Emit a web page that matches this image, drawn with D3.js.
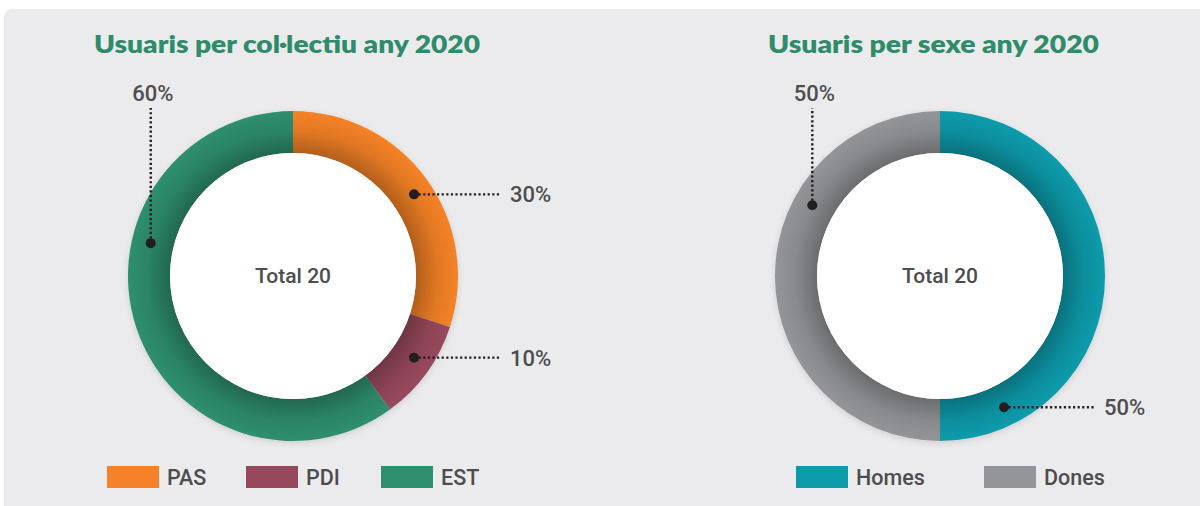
<!DOCTYPE html>
<html>
<head>
<meta charset="utf-8">
<script src="https://cdn.jsdelivr.net/npm/d3@7"></script>
<style>
  body { margin: 0; background: #ffffff; }
  svg { display: block; }
</style>
</head>
<body>
<svg id="chart" width="1200" height="506"></svg>
<script>
// data
const collectiuTitle = 'Usuaris per col·lectiu any 2020'
const collectiuNames = ['PAS', 'PDI', 'EST']
const collectiuValues = [30, 10, 60]
const collectiuColors = ['#f58228', '#98485d', '#2f8f6e']

const sexeTitle = 'Usuaris per sexe any 2020'
const sexeNames = ['Homes', 'Dones']
const sexeValues = [50, 50]
const sexeColors = ['#0b9bab', '#939598']

const totalLabel = 'Total 20'

const svg = d3.select('#chart')
const textColor = '#4d4d4f'
const titleColor = '#2e8c6b'

// panel background
svg.append('rect')
  .attr('x', 4).attr('y', 9)
  .attr('width', 1210).attr('height', 520)
  .attr('rx', 8)
  .style('fill', '#ebebed')

const defs = svg.append('defs')
const shade = defs.append('radialGradient')
  .attr('id', 'innerShade')
  .attr('gradientUnits', 'userSpaceOnUse')
  .attr('cx', 0).attr('cy', 0).attr('r', 165)
shade.append('stop').attr('offset', 0.74).attr('stop-color', '#000').attr('stop-opacity', 0.28)
shade.append('stop').attr('offset', 0.88).attr('stop-color', '#000').attr('stop-opacity', 0.08)
shade.append('stop').attr('offset', 1).attr('stop-color', '#000').attr('stop-opacity', 0)

const drop = defs.append('filter').attr('id', 'drop')
  .attr('x', '-20%').attr('y', '-20%').attr('width', '140%').attr('height', '140%')
drop.append('feDropShadow')
  .attr('dx', 0).attr('dy', 2).attr('stdDeviation', 3)
  .attr('flood-color', '#000').attr('flood-opacity', 0.12)

const outerR = 165
const innerR = 123

function drawDonut (opts) {
  const g = svg.append('g').attr('transform', `translate(${opts.cx},${opts.cy})`)

  const pie = d3.pie().sort(null).value(d => d)
  const arcs = pie(opts.values)
  const arc = d3.arc().innerRadius(innerR).outerRadius(outerR)

  const ring = g.append('g').attr('filter', 'url(#drop)')
  ring.selectAll('path.slice')
    .data(arcs)
    .join('path')
    .attr('class', 'slice')
    .attr('d', arc)
    .style('fill', (d, i) => opts.colors[i])

  // soft shadow thrown by the inner disc
  g.append('path')
    .attr('d', d3.arc().innerRadius(innerR).outerRadius(outerR).startAngle(0).endAngle(2 * Math.PI)())
    .style('fill', 'url(#innerShade)')

  g.append('circle').attr('r', innerR).style('fill', '#ffffff')

  g.append('text')
    .attr('y', 7)
    .attr('text-anchor', 'middle')
    .style('font-family', 'Roboto, sans-serif')
    .style('font-weight', 500)
    .style('font-size', '21px')
    .style('fill', textColor)
    .text(totalLabel)

  // callouts
  const total = d3.sum(opts.values)
  const midR = (innerR + outerR) / 2 + 2
  opts.callouts.forEach((c, i) => {
    const a = c.angle * Math.PI / 180
    const px = Math.sin(a) * midR
    const py = -Math.cos(a) * midR
    const pct = Math.round(opts.values[i] / total * 100) + '%'
    let x2 = px
    let y2 = py
    if (c.dir === 'h') {
      x2 = c.to
    } else {
      y2 = c.to
    }
    g.append('line')
      .attr('x1', px).attr('y1', py)
      .attr('x2', x2).attr('y2', y2)
      .style('stroke', '#231f20')
      .style('stroke-width', 2.4)
      .style('stroke-dasharray', '2.2,2.4')
    g.append('circle')
      .attr('cx', px).attr('cy', py).attr('r', 5)
      .style('fill', '#231f20')
    const t = g.append('text')
      .style('font-family', 'Roboto, sans-serif')
      .style('font-weight', 500)
      .style('font-size', '22px')
      .style('fill', textColor)
      .text(pct)
    if (c.dir === 'h') {
      t.attr('x', x2 + 10).attr('y', py + 8)
    } else {
      t.attr('x', px + 2).attr('y', y2 - 7).attr('text-anchor', 'middle')
    }
  })

  // title
  svg.append('text')
    .attr('x', opts.titleX).attr('y', 53)
    .attr('textLength', opts.titleW)
    .attr('lengthAdjust', 'spacingAndGlyphs')
    .style('font-family', 'Lato, "Open Sans", sans-serif')
    .style('font-weight', 800)
    .style('font-size', '25px')
    .style('fill', titleColor)
    .text(opts.title)

  // legend
  const leg = svg.append('g')
  opts.names.forEach((n, i) => {
    const lx = opts.legendX[i]
    leg.append('rect')
      .attr('x', lx).attr('y', 466)
      .attr('width', 52).attr('height', 22)
      .style('fill', opts.colors[i])
    leg.append('text')
      .attr('x', lx + 60).attr('y', 485)
      .style('font-family', 'Roboto, sans-serif')
      .style('font-weight', 500)
      .style('font-size', '21.5px')
      .style('fill', textColor)
      .text(n)
  })
}

drawDonut({
  cx: 293, cy: 276,
  title: collectiuTitle, titleX: 94, titleW: 386,
  names: collectiuNames, values: collectiuValues, colors: collectiuColors,
  legendX: [107, 246, 381],
  callouts: [
    { angle: 56, dir: 'h', to: 207 },
    { angle: 124, dir: 'h', to: 207 },
    { angle: 283, dir: 'v', to: -168 }
  ]
})

drawDonut({
  cx: 940, cy: 276,
  title: sexeTitle, titleX: 768, titleW: 331,
  names: sexeNames, values: sexeValues, colors: sexeColors,
  legendX: [796, 984],
  callouts: [
    { angle: 154, dir: 'h', to: 154 },
    { angle: 299, dir: 'v', to: -168 }
  ]
})
</script>
</body>
</html>
